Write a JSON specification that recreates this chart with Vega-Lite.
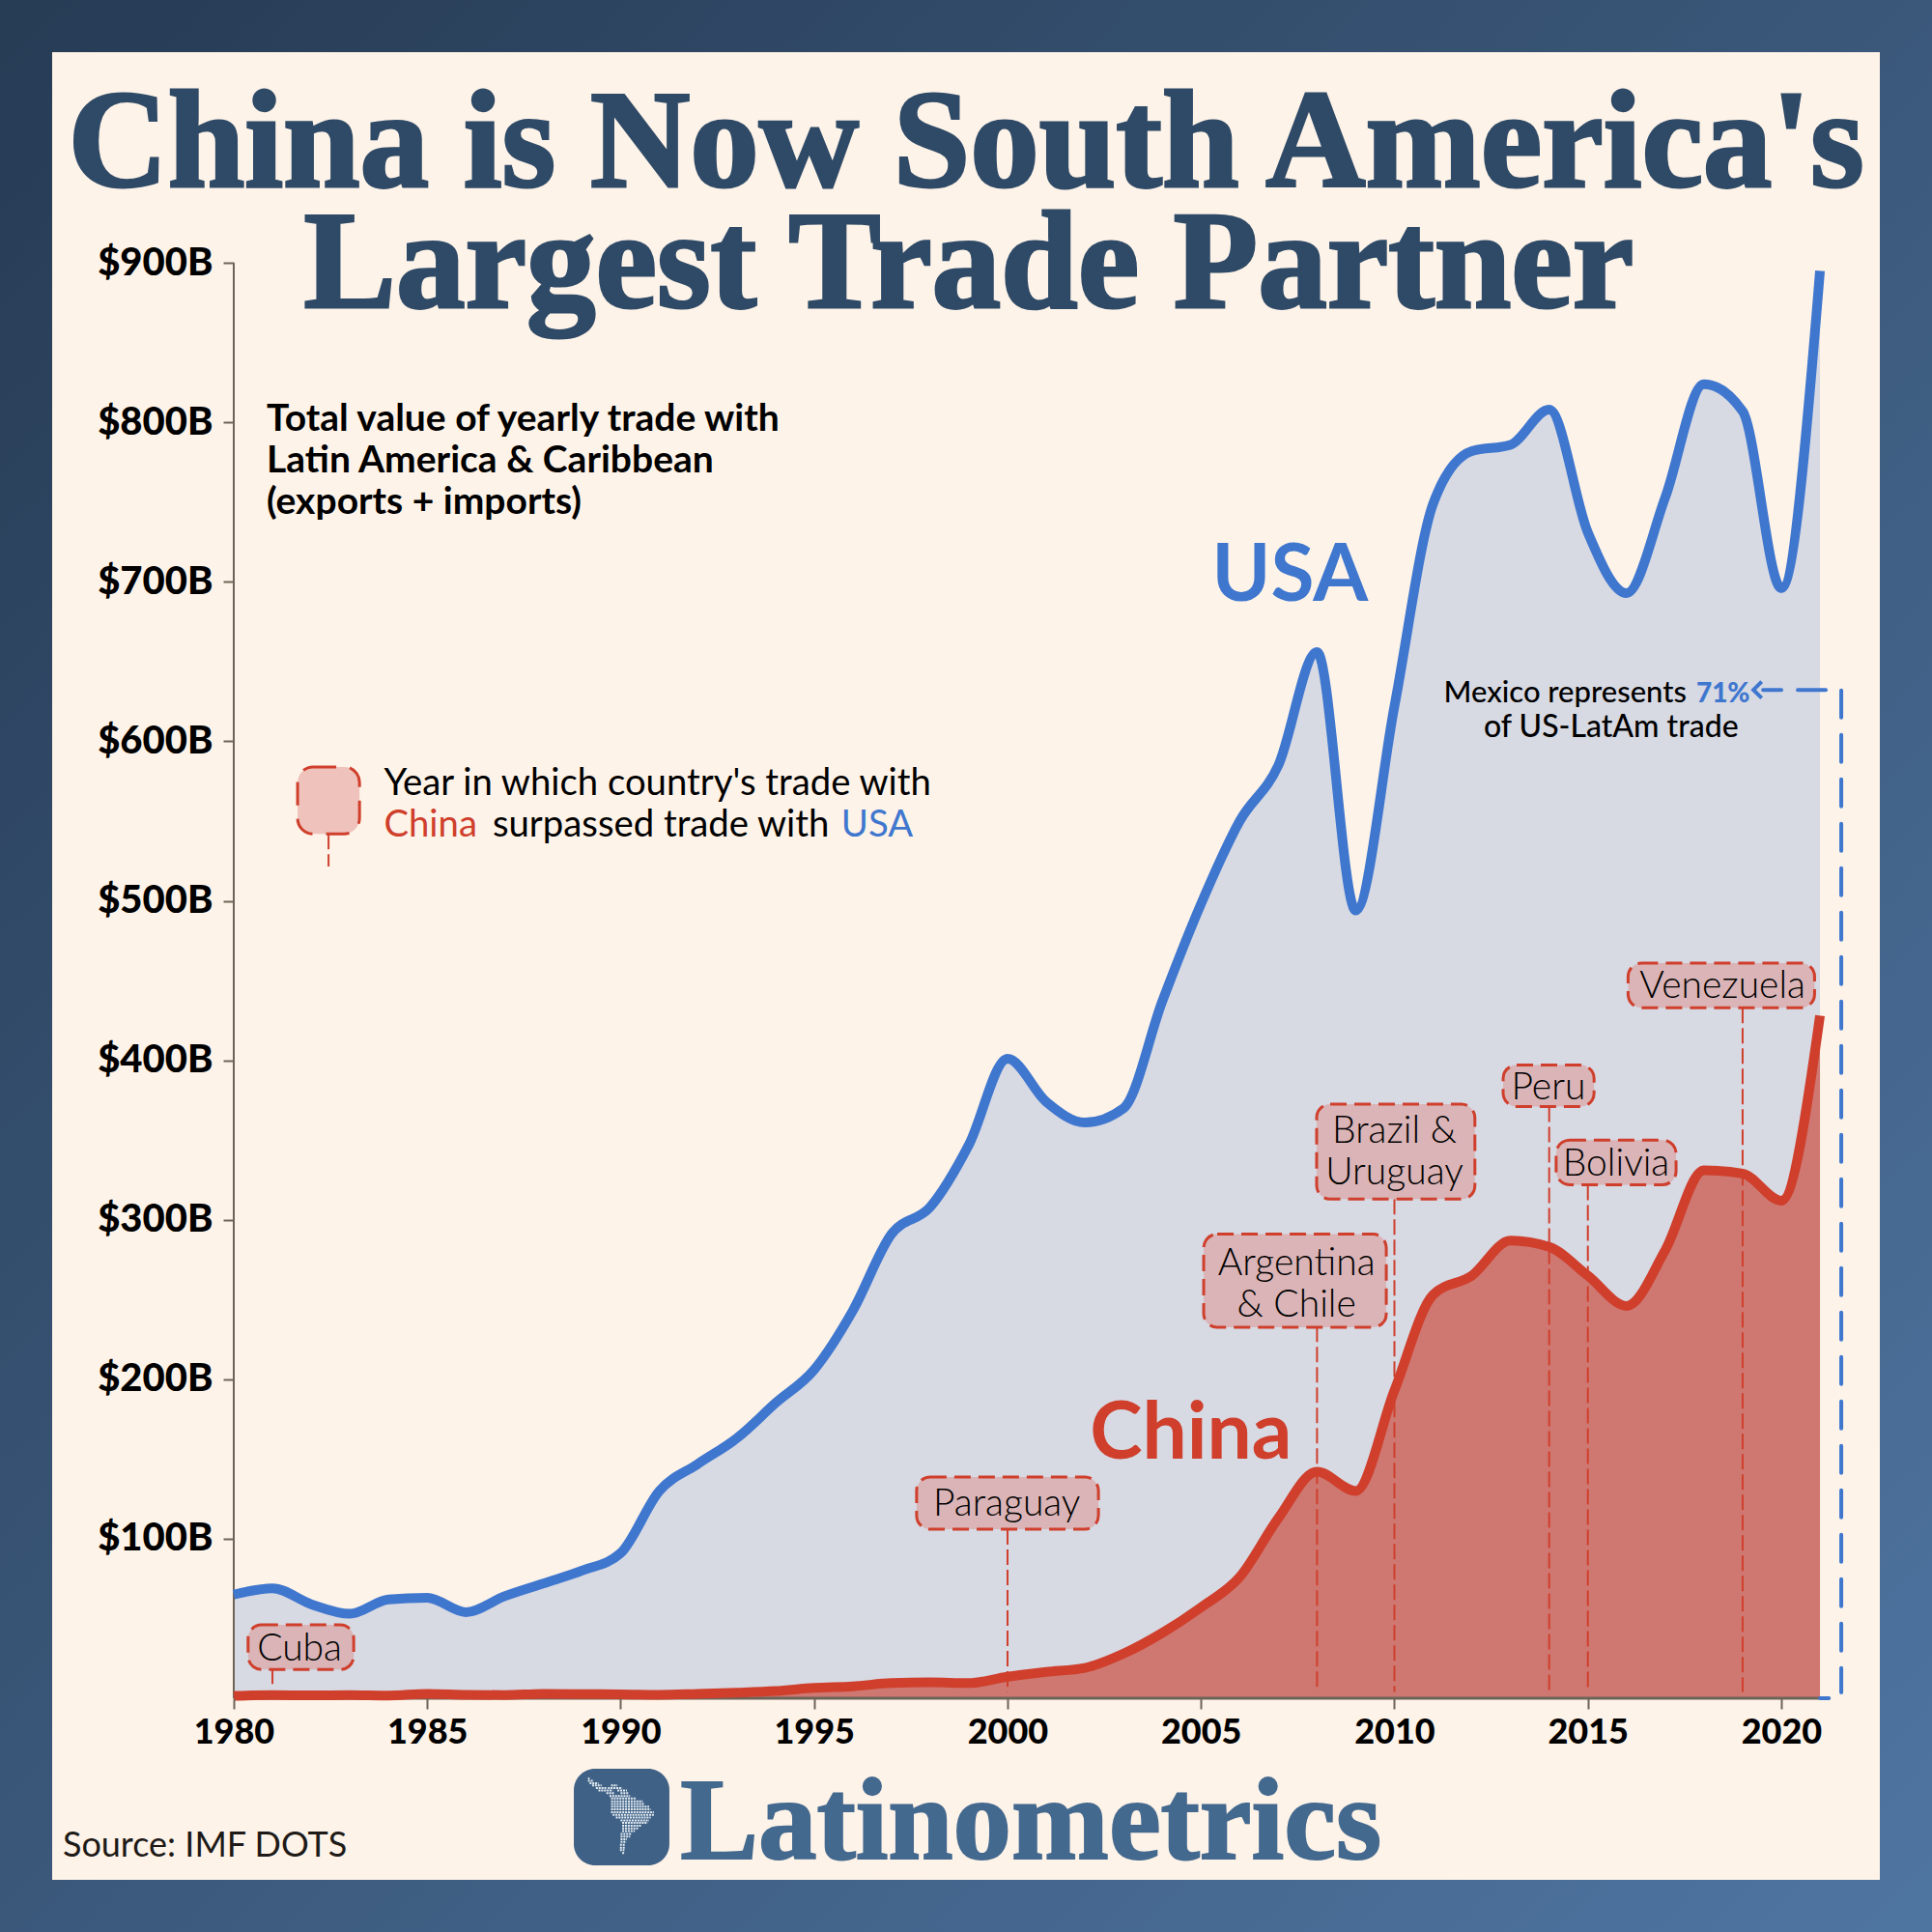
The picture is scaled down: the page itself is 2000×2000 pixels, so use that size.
{
  "$schema": "https://vega.github.io/schema/vega-lite/v6.json",
  "width": 1946,
  "height": 1946,
  "padding": 27,
  "autosize": {"type": "none"},
  "view": {
    "fill": "#fef3e8",
    "stroke": {"gradient": "linear", "x1": 0, "y1": 0, "x2": 1, "y2": 1, "stops": [{"offset": 0, "color": "#273c55"}, {"offset": 1, "color": "#4e74a0"}]},
    "strokeWidth": 54
  },
  "config": {"font": "Lato"},
  "datasets": {
    "usa": [
      {"year": 1980, "value": 65}, {"year": 1981, "value": 69}, {"year": 1982, "value": 59}, {"year": 1983, "value": 53},
      {"year": 1984, "value": 62}, {"year": 1985, "value": 63}, {"year": 1986, "value": 54}, {"year": 1987, "value": 64},
      {"year": 1988, "value": 72}, {"year": 1989, "value": 80}, {"year": 1990, "value": 91}, {"year": 1991, "value": 130},
      {"year": 1992, "value": 147}, {"year": 1993, "value": 163}, {"year": 1994, "value": 185}, {"year": 1995, "value": 206},
      {"year": 1996, "value": 243}, {"year": 1997, "value": 291}, {"year": 1998, "value": 308}, {"year": 1999, "value": 347},
      {"year": 2000, "value": 401}, {"year": 2001, "value": 374}, {"year": 2002, "value": 361}, {"year": 2003, "value": 370},
      {"year": 2004, "value": 437}, {"year": 2005, "value": 498}, {"year": 2006, "value": 550}, {"year": 2007, "value": 585},
      {"year": 2008, "value": 656}, {"year": 2009, "value": 494}, {"year": 2010, "value": 622}, {"year": 2011, "value": 749},
      {"year": 2012, "value": 782}, {"year": 2013, "value": 786}, {"year": 2014, "value": 808}, {"year": 2015, "value": 731},
      {"year": 2016, "value": 693}, {"year": 2017, "value": 753}, {"year": 2018, "value": 824}, {"year": 2019, "value": 807},
      {"year": 2020, "value": 696}, {"year": 2021, "value": 895}
    ],
    "china": [
      {"year": 1980, "value": 1.5}, {"year": 1981, "value": 2}, {"year": 1982, "value": 1.8}, {"year": 1983, "value": 2},
      {"year": 1984, "value": 1.7}, {"year": 1985, "value": 2.8}, {"year": 1986, "value": 2.2}, {"year": 1987, "value": 2},
      {"year": 1988, "value": 2.8}, {"year": 1989, "value": 2.6}, {"year": 1990, "value": 2.5}, {"year": 1991, "value": 2.2},
      {"year": 1992, "value": 2.8}, {"year": 1993, "value": 3.5}, {"year": 1994, "value": 4.5}, {"year": 1995, "value": 6.5},
      {"year": 1996, "value": 7.5}, {"year": 1997, "value": 9.5}, {"year": 1998, "value": 10}, {"year": 1999, "value": 9.5},
      {"year": 2000, "value": 13.5}, {"year": 2001, "value": 16.5}, {"year": 2002, "value": 19}, {"year": 2003, "value": 28},
      {"year": 2004, "value": 41}, {"year": 2005, "value": 57}, {"year": 2006, "value": 76}, {"year": 2007, "value": 113},
      {"year": 2008, "value": 142}, {"year": 2009, "value": 130}, {"year": 2010, "value": 193}, {"year": 2011, "value": 253},
      {"year": 2012, "value": 265}, {"year": 2013, "value": 287}, {"year": 2014, "value": 283}, {"year": 2015, "value": 265},
      {"year": 2016, "value": 246}, {"year": 2017, "value": 281}, {"year": 2018, "value": 331}, {"year": 2019, "value": 329},
      {"year": 2020, "value": 312}, {"year": 2021, "value": 428}
    ]
  },
  "encoding": {
    "x": {
      "field": "year",
      "type": "quantitative",
      "scale": {"domain": [1974.632, 2023.221], "nice": false, "zero": false},
      "axis": {
        "title": null, "grid": false, "domain": false, "offset": -215, "values": [1980, 1985, 1990, 1995, 2000, 2005, 2010, 2015, 2020],
        "format": "d", "tickSize": 11, "tickWidth": 2, "tickColor": "#6d6356", "labelFontSize": 36, "labelFontWeight": 900, "labelColor": "#000000",
        "labelPadding": 7, "labelFlush": false, "labelOverlap": false, "zindex": 1
      }
    },
    "y": {
      "field": "value",
      "type": "quantitative",
      "scale": {"domain": [-130.2, 1048.5], "nice": false, "zero": false},
      "axis": {
        "title": null, "grid": false, "domain": false, "offset": -215, "values": [100, 200, 300, 400, 500, 600, 700, 800, 900],
        "labelExpr": "'$' + datum.value + 'B'", "tickSize": 11, "tickWidth": 2, "tickColor": "#6d6356", "labelFontSize": 40, "labelFontWeight": 900, "labelColor": "#000000",
        "labelPadding": 11, "labelFlush": false, "labelOverlap": false, "zindex": 1
      }
    }
  },
  "layer": [
    {"data": {"name": "usa"}, "mark": {"type": "area", "interpolate": "monotone", "color": "#d7d9e3"}},
    {"data": {"name": "china"}, "mark": {"type": "area", "interpolate": "monotone", "color": "#cf7872"}},
    {
      "data": {"values": [{"year": 1980, "value": 0, "value2": 900}]},
      "mark": {"type": "rule", "color": "#6d6356", "strokeWidth": 2},
      "encoding": {"y2": {"field": "value2"}}
    },
    {
      "data": {"values": [{"year": 1980, "year2": 2021, "value": 0}]},
      "mark": {"type": "rule", "color": "#6d6356", "strokeWidth": 3},
      "encoding": {"x2": {"field": "year2"}}
    },
    {
      "data": {"values": [{"year": 2021, "year2": 2021.23, "value": 0}]},
      "mark": {"type": "rule", "color": "#3f77cf", "strokeWidth": 4, "strokeCap": "round"},
      "encoding": {"x2": {"field": "year2"}}
    },
    {
      "data": {"values": [
        {"year": 1981, "value": 18, "value2": 9},
        {"year": 2000, "value": 106, "value2": 4},
        {"year": 2008, "value": 233, "value2": 4},
        {"year": 2010, "value": 313, "value2": 4},
        {"year": 2014, "value": 371, "value2": 4},
        {"year": 2015, "value": 322, "value2": 4},
        {"year": 2019, "value": 433, "value2": 4},
        {"year": 1982.45, "value": 542, "value2": 521.5}
      ]},
      "mark": {"type": "rule", "color": "#cf3f2c", "strokeWidth": 2, "strokeDash": [16, 5]},
      "encoding": {"y2": {"field": "value2"}}
    },
    {"data": {"name": "usa"}, "mark": {"type": "line", "interpolate": "monotone", "color": "#3f77cf", "strokeWidth": 10}},
    {"data": {"name": "china"}, "mark": {"type": "line", "interpolate": "monotone", "color": "#cf3f2c", "strokeWidth": 10}},
    {
      "data": {"values": [{"year": 2021.55, "value": 632, "value2": 3.6}]},
      "mark": {"type": "rule", "color": "#3f77cf", "strokeWidth": 4, "strokeDash": [28, 18], "strokeCap": "round"},
      "encoding": {"y2": {"field": "value2"}}
    },
    {
      "data": {"values": [{"year": 2021.15, "year2": 2019.53, "value": 632.3}]},
      "mark": {"type": "rule", "color": "#3f77cf", "strokeWidth": 4, "strokeDash": [29, 17], "strokeCap": "round"},
      "encoding": {"x2": {"field": "year2"}}
    },
    {
      "data": {"values": [{"year": 2019.28, "value": 632.3}]},
      "mark": {"type": "point", "shape": "M1,-1L0,0L1,1", "size": 289, "color": "#3f77cf", "filled": false, "strokeWidth": 4, "opacity": 1}
    },
    {
      "data": {"values": [
        {"year": 1980.37, "year2": 1983.1, "value": 46, "value2": 18},
        {"year": 1997.65, "year2": 2002.35, "value": 138.7, "value2": 106},
        {"year": 2005.07, "year2": 2009.79, "value": 291, "value2": 232.6},
        {"year": 2007.99, "year2": 2012.08, "value": 372.5, "value2": 313},
        {"year": 2012.81, "year2": 2015.16, "value": 397, "value2": 371},
        {"year": 2014.18, "year2": 2017.28, "value": 350, "value2": 322},
        {"year": 2016.04, "year2": 2020.86, "value": 461, "value2": 433}
      ]},
      "mark": {"type": "rect", "fill": "#dab4b6", "stroke": "#cf3f2c", "strokeWidth": 3, "strokeDash": [17, 8], "cornerRadius": 14},
      "encoding": {"x2": {"field": "year2"}, "y2": {"field": "value2"}}
    },
    {
      "data": {"values": [{"year": 1981.65, "year2": 1983.25, "value": 584, "value2": 542}]},
      "mark": {"type": "rect", "fill": "#efc3bc", "stroke": "#cf3f2c", "strokeWidth": 3, "strokeDash": [24, 14], "cornerRadius": 16},
      "encoding": {"x2": {"field": "year2"}, "y2": {"field": "value2"}}
    },
    {
      "data": {"values": [
        {"year": 1981.7, "value": 23.6, "text": "Cuba"},
        {"year": 1999.98, "value": 114.5, "text": "Paraguay"},
        {"year": 2007.47, "value": 265.6, "text": "Argentina"},
        {"year": 2007.47, "value": 239.4, "text": "& Chile"},
        {"year": 2010, "value": 348.3, "text": "Brazil &"},
        {"year": 2010, "value": 322.1, "text": "Uruguay"},
        {"year": 2013.98, "value": 375.5, "text": "Peru"},
        {"year": 2015.73, "value": 327.7, "text": "Bolivia"},
        {"year": 2018.48, "value": 439, "text": "Venezuela"}
      ]},
      "mark": {"type": "text", "font": "Lato", "fontSize": 39, "fontWeight": 300, "color": "#000000", "align": "center", "baseline": "alphabetic"},
      "encoding": {"text": {"field": "text"}}
    },
    {
      "data": {"values": [
        {"year": 1998.93, "value": 947.9, "text": "China is Now South America's"},
        {"year": 1999.0, "value": 872.2, "text": "Largest Trade Partner"}
      ]},
      "mark": {"type": "text", "font": "Liberation Serif", "fontSize": 143, "fontWeight": "bold", "color": "#2f4a67", "stroke": "#2f4a67", "strokeWidth": 3, "align": "center", "baseline": "alphabetic"},
      "encoding": {"text": {"field": "text"}}
    },
    {
      "data": {"values": [{"year": 1991.54, "value": -100.5, "text": "Latinometrics"}]},
      "mark": {"type": "text", "font": "Liberation Serif", "fontSize": 121, "fontWeight": "bold", "color": "#44698f", "stroke": "#44698f", "strokeWidth": 2, "align": "left", "baseline": "alphabetic"},
      "encoding": {"text": {"field": "text"}}
    },
    {
      "data": {"values": [{"year": 1988.79, "year2": 1991.26, "value": -44.2, "value2": -104.8}]},
      "mark": {"type": "rect", "fill": "#3f6186", "cornerRadius": 22},
      "encoding": {"x2": {"field": "year2"}, "y2": {"field": "value2"}}
    },
    {
      "data": {"values": [
        {"year": 1989.156, "year2": 1989.197, "value": -50.34}, {"year": 1989.156, "year2": 1989.303, "value": -51.73},
        {"year": 1989.197, "year2": 1989.426, "value": -53.32}, {"year": 1989.262, "year2": 1989.508, "value": -54.71},
        {"year": 1989.753, "year2": 1989.917, "value": -54.71}, {"year": 1989.36, "year2": 1989.631, "value": -56.3},
        {"year": 1989.671, "year2": 1990.04, "value": -56.3}, {"year": 1989.426, "year2": 1989.794, "value": -57.89},
        {"year": 1989.917, "year2": 1990.163, "value": -57.89}, {"year": 1989.631, "year2": 1989.835, "value": -59.48},
        {"year": 1989.999, "year2": 1990.204, "value": -59.48}, {"year": 1989.712, "year2": 1990.245, "value": -61.27},
        {"year": 1989.753, "year2": 1990.408, "value": -62.86}, {"year": 1989.753, "year2": 1990.572, "value": -64.64},
        {"year": 1989.753, "year2": 1990.613, "value": -66.23}, {"year": 1989.753, "year2": 1990.736, "value": -68.02},
        {"year": 1989.753, "year2": 1990.777, "value": -69.61}, {"year": 1989.753, "year2": 1990.859, "value": -71.4},
        {"year": 1989.794, "year2": 1990.859, "value": -73.18}, {"year": 1989.876, "year2": 1990.777, "value": -74.77},
        {"year": 1989.999, "year2": 1990.736, "value": -76.56}, {"year": 1990.04, "year2": 1990.695, "value": -78.15},
        {"year": 1990.04, "year2": 1990.531, "value": -79.94}, {"year": 1990.04, "year2": 1990.449, "value": -81.52},
        {"year": 1990.04, "year2": 1990.367, "value": -83.31}, {"year": 1989.999, "year2": 1990.285, "value": -85.1},
        {"year": 1989.999, "year2": 1990.245, "value": -86.69}, {"year": 1989.999, "year2": 1990.163, "value": -88.48},
        {"year": 1989.999, "year2": 1990.146, "value": -90.06}, {"year": 1989.983, "year2": 1990.122, "value": -91.85},
        {"year": 1989.983, "year2": 1990.122, "value": -93.64}, {"year": 1989.983, "year2": 1990.097, "value": -95.23},
        {"year": 1990.04, "year2": 1990.097, "value": -97.02}
      ]},
      "mark": {"type": "rule", "color": "#e6edf3", "strokeWidth": 2, "strokeDash": [2, 0.9]},
      "encoding": {"x2": {"field": "year2"}}
    },
    {
      "data": {"values": [{"year": 1975.58, "value": -99.3, "text": "Source: IMF DOTS"}]},
      "mark": {"type": "text", "font": "Lato", "fontSize": 36, "color": "#1d1a18", "align": "left", "baseline": "alphabetic"},
      "encoding": {"text": {"field": "text"}}
    },
    {
      "data": {"values": [
        {"year": 1980.85, "value": 794.7, "text": "Total value of yearly trade with"},
        {"year": 1980.85, "value": 768.6, "text": "Latin America & Caribbean"},
        {"year": 1980.85, "value": 742.5, "text": "(exports + imports)"}
      ]},
      "mark": {"type": "text", "font": "Lato", "fontSize": 39, "fontWeight": "bold", "color": "#000000", "align": "left", "baseline": "alphabetic"},
      "encoding": {"text": {"field": "text"}}
    },
    {
      "data": {"values": [
        {"year": 1983.88, "value": 566.6, "text": "Year in which country's trade with"},
        {"year": 1986.69, "value": 540.6, "text": "surpassed trade with"}
      ]},
      "mark": {"type": "text", "font": "Lato", "fontSize": 38.3, "color": "#000000", "align": "left", "baseline": "alphabetic"},
      "encoding": {"text": {"field": "text"}}
    },
    {
      "data": {"values": [{"year": 1983.88, "value": 540.6, "text": "China"}]},
      "mark": {"type": "text", "font": "Lato", "fontSize": 38.3, "color": "#cf3f2c", "align": "left", "baseline": "alphabetic"},
      "encoding": {"text": {"field": "text"}}
    },
    {
      "data": {"values": [{"year": 1995.7, "value": 540.6, "text": "USA"}]},
      "mark": {"type": "text", "font": "Lato", "fontSize": 38.3, "color": "#3f77cf", "align": "left", "baseline": "alphabetic"},
      "encoding": {"text": {"field": "text"}}
    },
    {
      "data": {"values": [{"year": 2007.3, "value": 688, "text": "USA"}]},
      "mark": {"type": "text", "font": "Lato", "fontSize": 82, "fontWeight": "bold", "color": "#3f77cf", "align": "center", "baseline": "alphabetic"},
      "encoding": {"text": {"field": "text"}}
    },
    {
      "data": {"values": [{"year": 2004.74, "value": 150, "text": "China"}]},
      "mark": {"type": "text", "font": "Lato", "fontSize": 82, "fontWeight": "bold", "color": "#cf3f2c", "align": "center", "baseline": "alphabetic"},
      "encoding": {"text": {"field": "text"}}
    },
    {
      "data": {"values": [{"year": 2017.55, "value": 624.5, "text": "Mexico represents"}]},
      "mark": {"type": "text", "font": "Lato", "fontSize": 31, "fontWeight": 500, "color": "#000000", "align": "right", "baseline": "alphabetic"},
      "encoding": {"text": {"field": "text"}}
    },
    {
      "data": {"values": [{"year": 2017.8, "value": 624.5, "text": "71%"}]},
      "mark": {"type": "text", "font": "Lato", "fontSize": 28, "fontWeight": 900, "color": "#3f77cf", "align": "left", "baseline": "alphabetic"},
      "encoding": {"text": {"field": "text"}}
    },
    {
      "data": {"values": [{"year": 2015.6, "value": 602.6, "text": "of US-LatAm trade"}]},
      "mark": {"type": "text", "font": "Lato", "fontSize": 32, "fontWeight": 500, "color": "#000000", "align": "center", "baseline": "alphabetic"},
      "encoding": {"text": {"field": "text"}}
    }
  ]
}
